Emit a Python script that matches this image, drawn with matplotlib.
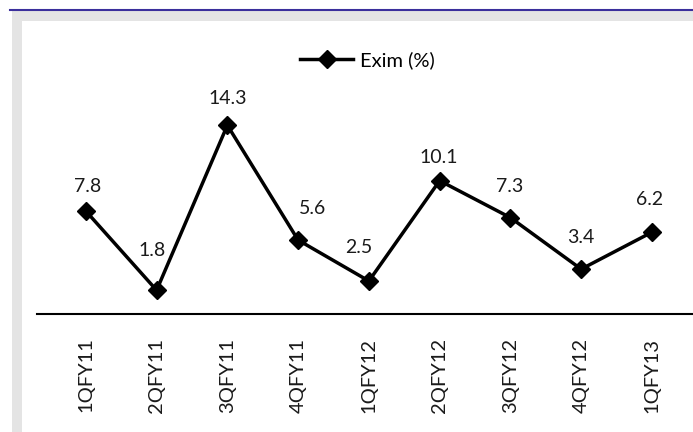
import matplotlib
matplotlib.use("Agg")
import matplotlib.pyplot as plt
from matplotlib.patches import Rectangle

categories = ["1QFY11", "2QFY11", "3QFY11", "4QFY11", "1QFY12",
              "2QFY12", "3QFY12", "4QFY12", "1QFY13"]
exim = [7.8, 1.8, 14.3, 5.6, 2.5, 10.1, 7.3, 3.4, 6.2]
series_name = "Exim (%)"

# data-label placement (pixel offsets from each point), as in the original
label_dx = [1.5, -5, 0, 14, -10, -1, -1, 0, -2]
label_dy = [25, 40, 27, 32, 34, 23, 31, 31.5, 33]

W, H = 693, 432
fig = plt.figure(figsize=(W / 100, H / 100), dpi=100)
fig.patch.set_facecolor("white")

# background axes in pixel-like coordinates (y down)
bg = fig.add_axes([0, 0, 1, 1], zorder=0)
bg.set_xlim(0, W)
bg.set_ylim(H, 0)
bg.axis("off")
bg.add_patch(Rectangle((12, 10), W - 12, H - 10, facecolor="#e4e4e4", edgecolor="none"))
bg.add_patch(Rectangle((22, 21), W - 22, H - 21, facecolor="white", edgecolor="none"))
bg.plot([10, W], [9.5, 9.5], color="#3b2f9c", linewidth=1.5)

font = "Lato"

def fx(x):
    return x / W

def fy(y):
    return 1 - y / H

left, right, bottom, top = 37, 693, 314, 40
ax = fig.add_axes([fx(left), fy(bottom), fx(right) - fx(left), fy(top) - fy(bottom)], zorder=2)
ax.set_facecolor("none")

x = list(range(len(categories)))
ax.plot(x, exim, color="black", linewidth=2.5, marker="D", markersize=9,
        label=series_name, zorder=3)
for xi, v, dx, dy in zip(x, exim, label_dx, label_dy):
    ax.annotate(f"{v}", (xi, v), xytext=(dx, dy), textcoords="offset pixels",
                ha="center", va="center", fontsize=14, family=font, color="#1a1a1a")

ax.set_xlim(-0.69, 8.58)
ax.set_ylim(0, 20.76)
ax.set_xticks(x)
ax.set_xticklabels(categories, rotation=90, fontsize=14.5, family=font, color="#1a1a1a")
ax.tick_params(axis="x", length=0, pad=17)
ax.set_yticks([])
for s in ["top", "right", "left"]:
    ax.spines[s].set_visible(False)
ax.spines["bottom"].set_linewidth(1.5)
ax.spines["bottom"].set_color("black")

leg = ax.legend(loc="center", bbox_to_anchor=(fx(367.5), fy(60)), bbox_transform=fig.transFigure,
                frameon=False, prop={"family": font, "size": 14.5}, handlelength=2.6,
                handletextpad=0.35, borderpad=0, borderaxespad=0)

fig.savefig("out.png", dpi=100)
